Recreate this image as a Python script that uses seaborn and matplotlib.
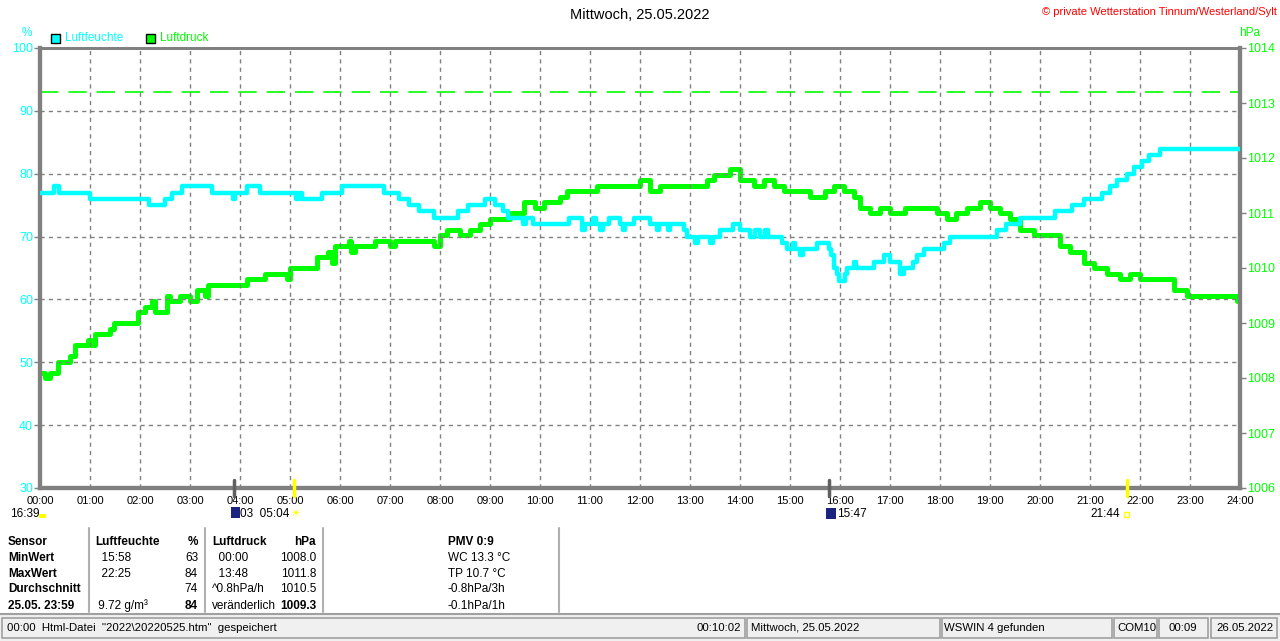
import numpy as np
import pandas as pd
import matplotlib
matplotlib.use("Agg")
import matplotlib.pyplot as plt
import matplotlib.transforms as mtransforms
from matplotlib.patches import Rectangle
import seaborn as sns

# ---------------- data ----------------
hum_hours = [0.0, 0.28, 0.38, 1.0, 2.17, 2.5, 2.63, 2.83, 3.43, 3.85, 3.9, 4.13, 4.4, 5.12, 5.18,
             5.23, 5.63, 6.03, 6.87, 7.17, 7.37, 7.57, 7.87, 8.36, 8.56, 8.9, 9.1, 9.25, 9.37,
             9.65, 9.72, 9.85, 10.57, 10.83, 10.9, 11.05, 11.12, 11.2, 11.25, 11.37, 11.6, 11.65,
             11.7, 11.87, 12.2, 12.33, 12.38, 12.55, 12.6, 12.87, 12.93, 13.1, 13.15, 13.4, 13.45,
             13.6, 13.85, 14.0, 14.2, 14.3, 14.4, 14.5, 14.55, 14.83, 14.93, 15.05, 15.1, 15.2,
             15.25, 15.53, 15.77, 15.82, 15.87, 15.93, 15.97, 16.1, 16.13, 16.27, 16.33, 16.67,
             16.87, 17.0, 17.2, 17.27, 17.45, 17.53, 17.67, 18.07, 18.2, 19.13, 19.33, 19.6, 20.3,
             20.63, 20.87, 21.23, 21.4, 21.53, 21.73, 21.87, 22.03, 22.17, 22.4, 24.0]
hum_values = [77, 78, 77, 76, 75, 76, 77, 78, 77, 76, 77, 78, 77, 76, 77,
              76, 77, 78, 77, 76, 75, 74, 73, 74, 75, 76, 75, 74, 73,
              72, 73, 72, 73, 71, 72, 73, 72, 71, 72, 73, 72, 71,
              72, 73, 72, 71, 72, 71, 72, 71, 70, 69, 70, 69, 70,
              71, 72, 71, 70, 71, 70, 71, 70, 69, 68, 69, 68, 67,
              68, 69, 68, 67, 65, 64, 63, 64, 65, 66, 65, 66,
              67, 66, 64, 65, 66, 67, 68, 69, 70, 71, 72, 73, 74,
              75, 76, 77, 78, 79, 80, 81, 82, 83, 84, 84]

pres_hours = [0.0, 0.1, 0.2, 0.3, 0.35, 0.5, 0.6, 0.7, 0.85, 0.95, 1.02, 1.1, 1.27, 1.4, 1.47,
              1.6, 1.85, 1.95, 2.1, 2.23, 2.3, 2.45, 2.53, 2.6, 2.8, 3.0, 3.13, 3.25, 3.3, 3.35,
              3.6, 3.9, 4.03, 4.13, 4.5, 4.8, 4.93, 5.0, 5.3, 5.4, 5.53, 5.7, 5.75, 5.83, 5.9,
              6.05, 6.17, 6.22, 6.3, 6.7, 7.0, 7.1, 7.5, 7.7, 7.87, 8.0, 8.13, 8.4, 8.6, 8.8,
              9.0, 9.27, 9.4, 9.67, 9.9, 10.07, 10.4, 10.53, 10.8, 11.13, 11.4, 11.73, 12.0,
              12.2, 12.4, 12.67, 12.93, 13.13, 13.33, 13.47, 13.8, 14.0, 14.27, 14.47, 14.67,
              14.87, 15.0, 15.4, 15.7, 15.87, 16.07, 16.27, 16.4, 16.6, 16.8, 17.0, 17.3, 17.6,
              17.93, 18.13, 18.33, 18.53, 18.8, 19.0, 19.2, 19.4, 19.6, 19.87, 20.13, 20.4,
              20.6, 20.87, 21.07, 21.33, 21.6, 21.8, 22.0, 22.27, 22.53, 22.67, 22.93, 23.2,
              23.6, 23.93, 24.0]
pres_values = [1008.1, 1008.0, 1008.1, 1008.1, 1008.3, 1008.3, 1008.4, 1008.6, 1008.6,
               1008.7, 1008.6, 1008.8, 1008.8, 1008.9, 1009.0, 1009.0, 1009.0, 1009.2,
               1009.3, 1009.4, 1009.2, 1009.2, 1009.5, 1009.4, 1009.5, 1009.4, 1009.6,
               1009.6, 1009.5, 1009.7, 1009.7, 1009.7, 1009.7, 1009.8, 1009.9, 1009.9,
               1009.8, 1010.0, 1010.0, 1010.0, 1010.2, 1010.2, 1010.3, 1010.1, 1010.4,
               1010.4, 1010.5, 1010.3, 1010.4, 1010.5, 1010.4, 1010.5, 1010.5, 1010.5,
               1010.4, 1010.6, 1010.7, 1010.6, 1010.7, 1010.8, 1010.9, 1010.9, 1011.0,
               1011.2, 1011.1, 1011.2, 1011.3, 1011.4, 1011.4, 1011.5, 1011.5, 1011.5,
               1011.6, 1011.4, 1011.5, 1011.5, 1011.5, 1011.5, 1011.6, 1011.7, 1011.8,
               1011.6, 1011.5, 1011.6, 1011.5, 1011.4, 1011.4, 1011.3, 1011.4, 1011.5,
               1011.4, 1011.3, 1011.1, 1011.0, 1011.1, 1011.0, 1011.1, 1011.1, 1011.0,
               1010.9, 1011.0, 1011.1, 1011.2, 1011.1, 1011.0, 1010.9, 1010.7, 1010.6,
               1010.6, 1010.4, 1010.3, 1010.1, 1010.0, 1009.9, 1009.8, 1009.9, 1009.8,
               1009.8, 1009.8, 1009.6, 1009.5, 1009.5, 1009.5, 1009.4, 1009.3]

pres_ref_line = 1013.2
hum_ticks = [30, 40, 50, 60, 70, 80, 90, 100]
pres_ticks = [1006, 1007, 1008, 1009, 1010, 1011, 1012, 1013, 1014]
hour_ticks = list(range(0, 25))
hour_labels = [f"{h:02d}:00" for h in hour_ticks]

title = "Mittwoch, 25.05.2022"
copyright_text = "\u00a9 private Wetterstation Tinnum/Westerland/Sylt"
series_names = ["Luftfeuchte", "Luftdruck"]

events_dark = [3.88, 15.78]       # moon rise / set markers
events_yellow = [5.07, 21.73]     # sun rise / set markers

table_rows = [
    ["Sensor", "Luftfeuchte", "%", "Luftdruck", "hPa", "PMV 0:9"],
    ["MinWert", "  15:58", "63", "  00:00", "1008.0", "WC 13.3 \u00b0C"],
    ["MaxWert", "  22:25", "84", "  13:48", "1011.8", "TP 10.7 \u00b0C"],
    ["Durchschnitt", "", "74", "^0.8hPa/h", "1010.5", "-0.8hPa/3h"],
    ["25.05. 23:59", " 9.72 g/m\u00b3", "84", "ver\u00e4nderlich", "1009.3", "-0.1hPa/1h"],
]

status_texts = ['00:00  Html-Datei  "2022\\20220525.htm"  gespeichert', "00:10:02",
                "Mittwoch, 25.05.2022", "WSWIN 4 gefunden", "COM10", "00:09", "26.05.2022"]

# ---------------- style ----------------
sns.set_theme(style="white")
plt.rcParams['font.family'] = ['Liberation Sans', 'DejaVu Sans']
CYAN = "#00FFFF"
GREEN = "#00FF00"
GRAY = "#808080"

W, H = 1280, 641
fig = plt.figure(figsize=(W / 100, H / 100), dpi=100)
fig.patch.set_facecolor("white")


def fp(x, y):
    return x / W, 1 - y / H


ax = fig.add_axes([40 / W, 1 - 488 / H, 1200 / W, 440 / H])
ax2 = ax.twinx()

hum_df = pd.DataFrame({"h": hum_hours, "v": hum_values})
pres_df = pd.DataFrame({"h": pres_hours, "v": pres_values})

sns.lineplot(data=hum_df, x="h", y="v", ax=ax, color=CYAN, lw=3.2,
             drawstyle="steps-post", estimator=None, zorder=5)
sns.lineplot(data=pres_df, x="h", y="v", ax=ax2, color=GREEN, lw=3.6,
             drawstyle="steps-post", estimator=None, zorder=4)
ax2.axhline(pres_ref_line, color=GREEN, lw=1.2, dashes=(11, 6), zorder=3)

ax.set_xlim(0, 24)
ax.set_ylim(30, 100)
ax2.set_ylim(1006, 1014)
ax.set_xlabel("")
ax.set_ylabel("")
ax2.set_xlabel("")
ax2.set_ylabel("")

# grid
for y in hum_ticks[1:-1]:
    ax.axhline(y, color=GRAY, lw=1, dashes=(3, 3), zorder=1)
for h in hour_ticks[1:-1]:
    ax.axvline(h, color=GRAY, lw=1, dashes=(3, 3), zorder=1)

ax.set_xticks(hour_ticks)
ax.set_xticklabels(hour_labels, fontsize=8, color="black")
ax.set_yticks(hum_ticks)
ax.set_yticklabels([str(t) for t in hum_ticks], fontsize=9, color=CYAN)
ax2.set_yticks(pres_ticks)
ax2.set_yticklabels([str(t) for t in pres_ticks], fontsize=9, color=GREEN)
ax.tick_params(axis="x", direction="out", length=4, width=1, color=GRAY, pad=2)
ax.tick_params(axis="y", direction="out", length=4, width=1, color=GRAY, pad=1)
ax2.tick_params(axis="y", direction="out", length=4, width=1, color=GRAY, pad=1)

for a in (ax, ax2):
    for s in a.spines.values():
        s.set_color(GRAY)
    a.spines["left"].set_linewidth(3)
    a.spines["bottom"].set_linewidth(3)
    a.spines["right"].set_linewidth(3)
    a.spines["top"].set_linewidth(2)
ax.set_zorder(ax2.get_zorder() + 1)
ax.patch.set_visible(False)

# event markers on x axis
trans = mtransforms.blended_transform_factory(ax.transData, ax.transAxes)
for e in events_dark:
    ax.plot([e, e], [-0.018, 0.018], transform=trans, color="#606060", lw=2.5,
            clip_on=False, zorder=6)
for e in events_yellow:
    ax.plot([e, e], [-0.018, 0.018], transform=trans, color="#FFFF00", lw=2.5,
            clip_on=False, zorder=6)

# titles and units
fig.text(*fp(640, 15), title, ha="center", va="center", fontsize=10.5, color="black")
fig.text(*fp(1277, 12), copyright_text, ha="right", va="center", fontsize=8, color="#FF0000")
fig.text(*fp(27, 33), "%", ha="center", va="center", fontsize=8.5, color=CYAN)
fig.text(*fp(1250, 33), "hPa", ha="center", va="center", fontsize=8.5, color=GREEN)

# legend
for (x0, name, col) in [(51, series_names[0], CYAN), (146, series_names[1], GREEN)]:
    fig.patches.append(Rectangle(fp(x0, 43), 9 / W, 9 / H, transform=fig.transFigure,
                                 facecolor=col, edgecolor="black", lw=1))
    fig.text(*fp(x0 + 14, 38), name, ha="left", va="center", fontsize=8.5, color=col)

# event labels under axis
fig.text(*fp(10, 514), "16:39", ha="left", va="center", fontsize=8.5, color="black")
fig.patches.append(Rectangle(fp(39, 518), 7 / W, 4 / H, transform=fig.transFigure,
                             facecolor="#FFFF00", edgecolor="none"))
fig.patches.append(Rectangle(fp(231, 518), 9 / W, 11 / H, transform=fig.transFigure,
                             facecolor="#1A237E", edgecolor="none"))
fig.text(*fp(240, 514), "03  05:04", ha="left", va="center", fontsize=8.5, color="black")
fig.text(*fp(295, 514), "\u2600", ha="center", va="center", fontsize=8, color="#FFFF00")
fig.patches.append(Rectangle(fp(826, 519), 10 / W, 11 / H, transform=fig.transFigure,
                             facecolor="#1A237E", edgecolor="none"))
fig.text(*fp(837, 514), "15:47", ha="left", va="center", fontsize=8.5, color="black")
fig.text(*fp(1120, 514), "21:44", ha="right", va="center", fontsize=8.5, color="black")
fig.patches.append(Rectangle(fp(1124, 517), 5 / W, 5 / H, transform=fig.transFigure,
                             facecolor="none", edgecolor="#FFFF00", lw=1))

# info table
row_y = [542, 558, 574, 589, 606]
col_spec = [(8, "left"), (95, "left"), (198, "right"), (212, "left"), (316, "right"), (448, "left")]
for r, row in enumerate(table_rows):
    for c, txt in enumerate(row):
        x, ha = col_spec[c]
        bold = (r == 0 and c < 6) or c == 0 or (r == 4 and c in (2, 4))
        fig.text(*fp(x, row_y[r]), txt, ha=ha, va="center", fontsize=8.5,
                 fontweight="bold" if bold else "normal", color="black")
for x in [89, 205, 323, 559]:
    fig.add_artist(plt.Line2D([x / W, x / W], [1 - 528 / H, 1 - 612 / H],
                              transform=fig.transFigure, color="#b0b0b0", lw=1.5))

# status bar
fig.patches.append(Rectangle(fp(0, 641), 1, 27 / H, transform=fig.transFigure,
                             facecolor="#f0f0f0", edgecolor="none"))
fig.add_artist(plt.Line2D([0, 1], [1 - 614 / H, 1 - 614 / H], transform=fig.transFigure,
                          color="#a0a0a0", lw=1.5))
panels = [(2, 745), (747, 940), (942, 1112), (1114, 1157), (1159, 1208), (1211, 1277)]
for (a, b) in panels:
    fig.patches.append(Rectangle(fp(a, 638), (b - a) / W, 20 / H, transform=fig.transFigure,
                                 facecolor="none", edgecolor="#a0a0a0", lw=1.2))
sy = 628
fs = 8.2
fig.text(*fp(7, sy), status_texts[0], ha="left", va="center", fontsize=fs, color="black")
fig.text(*fp(741, sy), status_texts[1], ha="right", va="center", fontsize=fs, color="black")
fig.text(*fp(751, sy), status_texts[2], ha="left", va="center", fontsize=fs, color="black")
fig.text(*fp(944, sy), status_texts[3], ha="left", va="center", fontsize=fs, color="black")
fig.text(*fp(1117, sy), status_texts[4], ha="left", va="center", fontsize=fs, color="black")
fig.text(*fp(1183, sy), status_texts[5], ha="center", va="center", fontsize=fs, color="black")
fig.text(*fp(1216, sy), status_texts[6], ha="left", va="center", fontsize=fs, color="black")

fig.savefig("out.png", dpi=100, facecolor="white")
